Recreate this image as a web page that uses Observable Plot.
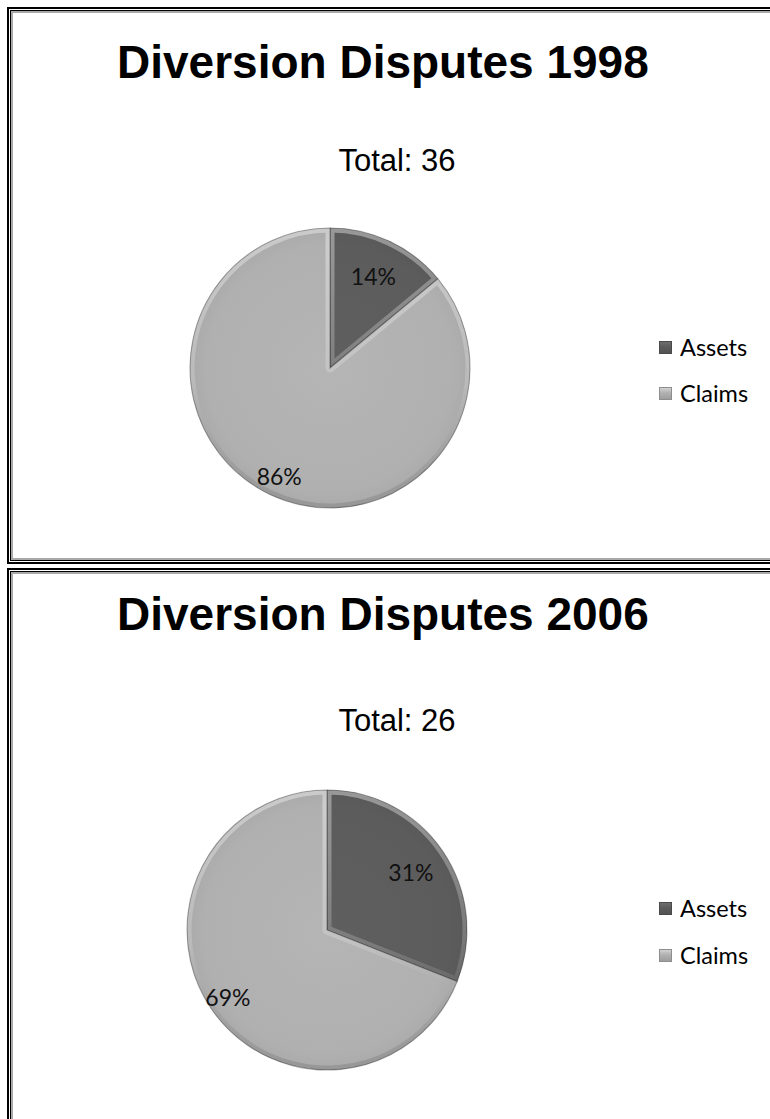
<!DOCTYPE html>
<html><head><meta charset="utf-8">
<script src="https://cdn.jsdelivr.net/npm/d3@7"></script>
<script src="https://cdn.jsdelivr.net/npm/@observablehq/plot@0.6"></script>
<style>
html,body{margin:0;padding:0;background:#fff;}
body{width:770px;height:1119px;overflow:hidden;position:relative;}
.panel{position:absolute;left:7px;width:830px;border:2px solid #000;box-sizing:border-box;}
.panel::before{content:"";position:absolute;left:1px;top:1px;right:1px;bottom:1px;border:1px solid #000;box-shadow:inset 0 0 0 2px #a9a9a9;}
.title{position:absolute;left:117px;font-family:"Liberation Sans",Arial,sans-serif;font-weight:bold;font-size:46px;line-height:46px;color:#000;white-space:nowrap;}
.total{position:absolute;width:300px;left:247px;text-align:center;font-family:"Liberation Sans",Arial,sans-serif;font-size:31px;line-height:31px;color:#000;white-space:nowrap;}
.pie{position:absolute;}
.leg{position:absolute;left:659px;display:flex;align-items:center;font-family:Lato,"Open Sans",sans-serif;font-size:23.5px;color:#000;white-space:nowrap;}
.sw{width:13px;height:13px;margin-right:8px;box-sizing:border-box;}
</style></head><body>
<script>
// ---- data ----
const years = ["1998", "2006"];
const totals = [36, 26];
const categories = ["Assets", "Claims"];
const assetsPct = [14, 31];
const claimsPct = [86, 69];
const colors = ["#5c5c5c", "#b0b0b0"];

// ---- layout (page coordinates) ----
const panelTop = [7, 568];
const panelHeight = [557, 620];
const titleTop = [39, 591];
const totalTop = [145, 705];
const pieCenter = [[330, 368], [327, 930]];
const legendY = [[347, 393], [908, 955]];

const colorScale = Plot.scale({color: {type: "ordinal", domain: categories, range: colors}});

function pieMark(slices, uid) {
  return (index, scales, values, dimensions, context) => {
    const sx = scales.x, sy = scales.y;
    const cx = sx(0), cy = sy(0), r = sx(1) - sx(0);
    const root = d3.create("svg:g");
    const defs = root.append("defs");
    const g = root.append("g").attr("transform", `translate(${cx},${cy})`);
    const bev = defs.append("linearGradient").attr("id", uid + "-bev")
      .attr("gradientUnits", "userSpaceOnUse")
      .attr("x1", 0).attr("y1", -r).attr("x2", 0).attr("y2", r);
    bev.append("stop").attr("offset", "0%").attr("stop-color", "#fff").attr("stop-opacity", 0.38);
    bev.append("stop").attr("offset", "55%").attr("stop-color", "#fff").attr("stop-opacity", 0.18);
    bev.append("stop").attr("offset", "100%").attr("stop-color", "#000").attr("stop-opacity", 0.12);
    const arcs = d3.pie().sort(null).value(d => d.value)(slices);
    const arc = d3.arc().innerRadius(0).outerRadius(r);
    arcs.forEach((a, i) => {
      const base = d3.color(colorScale.apply(a.data.category));
      const rg = defs.append("radialGradient").attr("id", `${uid}-rg${i}`)
        .attr("gradientUnits", "userSpaceOnUse")
        .attr("cx", 0).attr("cy", 0).attr("r", r);
      rg.append("stop").attr("offset", "0%").attr("stop-color", base.brighter(0.08).formatHex());
      rg.append("stop").attr("offset", "88%").attr("stop-color", base.formatHex());
      rg.append("stop").attr("offset", "100%").attr("stop-color", base.darker(0.1).formatHex());
      const d = arc(a);
      const outer = d3.arc().innerRadius(r - 0.01).outerRadius(r)(a);
      defs.append("clipPath").attr("id", `${uid}-cp${i}`).append("path").attr("d", d);
      const sg = g.append("g");
      sg.append("path").attr("d", d).attr("fill", `url(#${uid}-rg${i})`);
      // soft bevel along the rim
      sg.append("path").attr("d", d)
        .attr("fill", "none").attr("stroke", `url(#${uid}-bev)`).attr("stroke-width", 9)
        .attr("stroke-linejoin", "round")
        .attr("clip-path", `url(#${uid}-cp${i})`);
      sg.append("path").attr("d", d)
        .attr("fill", "none").attr("stroke", "#000").attr("stroke-opacity", 0.32)
        .attr("stroke-width", 1.1);
    });
    return root.node();
  };
}

years.forEach((yr, k) => {
  const p = document.createElement("div");
  p.className = "panel";
  p.style.top = panelTop[k] + "px";
  p.style.height = panelHeight[k] + "px";
  document.body.appendChild(p);

  const t = document.createElement("div");
  t.className = "title";
  t.style.top = titleTop[k] + "px";
  t.textContent = `Diversion Disputes ${yr}`;
  document.body.appendChild(t);

  const tt = document.createElement("div");
  tt.className = "total";
  tt.style.top = totalTop[k] + "px";
  tt.textContent = `Total: ${totals[k]}`;
  document.body.appendChild(tt);

  const slices = [
    {category: categories[0], value: assetsPct[k]},
    {category: categories[1], value: claimsPct[k]}
  ];
  const arcs = d3.pie().sort(null).value(d => d.value)(slices);
  const labels = arcs.map(a => {
    const mid = (a.startAngle + a.endAngle) / 2;
    const share = a.data.value / 100;
    const rr = share < 0.5 ? 0.72 : 0.86;
    return {lx: rr * Math.sin(mid), ly: rr * Math.cos(mid), label: `${a.data.value}%`};
  });

  const svg = Plot.plot({
    width: 300, height: 300,
    marginTop: 10, marginBottom: 10, marginLeft: 10, marginRight: 10,
    x: {domain: [-1, 1], axis: null},
    y: {domain: [-1, 1], axis: null},
    style: {background: "transparent", overflow: "visible"},
    marks: [
      pieMark(slices, "pie" + k),
      Plot.text(labels, {x: "lx", y: "ly", text: "label", fontSize: 23,
        fontFamily: "Lato, 'Open Sans', sans-serif", fill: "#111"})
    ]
  });
  const wrap = document.createElement("div");
  wrap.className = "pie";
  wrap.style.left = (pieCenter[k][0] - 150) + "px";
  wrap.style.top = (pieCenter[k][1] - 150) + "px";
  wrap.appendChild(svg);
  document.body.appendChild(wrap);

  categories.forEach((c, j) => {
    const l = document.createElement("div");
    l.className = "leg";
    l.style.top = (legendY[k][j] - 15) + "px";
    l.style.height = "30px";
    const sw = document.createElement("div");
    sw.className = "sw";
    const col = d3.color(colorScale.apply(c));
    sw.style.background = `linear-gradient(180deg, ${col.brighter(0.5).formatHex()} 0%, ${col.formatHex()} 45%, ${col.darker(0.3).formatHex()} 100%)`;
    sw.style.border = `1px solid ${col.darker(0.6).formatHex()}`;
    l.appendChild(sw);
    const tx = document.createElement("span");
    tx.textContent = c;
    l.appendChild(tx);
    document.body.appendChild(l);
  });
});
</script>
</body></html>
